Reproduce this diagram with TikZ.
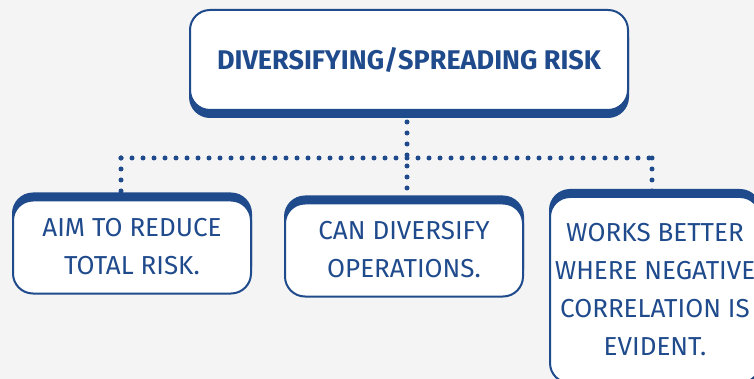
\documentclass[tikz,border=0pt]{standalone}
\usepackage{fontspec}
\setmainfont{Fira Sans}
\usetikzlibrary{positioning, backgrounds, shadows}
\definecolor{navy}{RGB}{31,74,140}
\definecolor{paper}{RGB}{244,244,244}

\begin{document}
\begin{tikzpicture}[x=1pt, y=-1pt,
    card/.style={draw=navy, line width=2pt, fill=white, rounded corners=20pt,
                 text=navy, align=center, font=\fontsize{26}{38}\selectfont},
    headcard/.style={card, minimum width=438pt, minimum height=100pt,
                     font=\fontsize{27}{32}\selectfont\bfseries,
                     general shadow={fill=navy, draw=navy, shadow yshift=-7pt}},
    leafcard/.style={card, minimum width=238pt, minimum height=93pt,
                     general shadow={fill=navy, draw=navy, shadow yshift=7pt}},
    dotline/.style={navy, line width=5pt, line cap=round, dash pattern=on 0pt off 11pt}]
  \useasboundingbox (0,0) rectangle (754,379);

  \node[headcard] (risk) at (409,60) {DIVERSIFYING/SPREADING RISK};
  \node[leafcard] (reduce) at (132,247) {AIM TO REDUCE\\TOTAL RISK.};
  \node[leafcard] (operations) at (404,250) {CAN DIVERSIFY\\OPERATIONS.};
  \node[leafcard, minimum width=210pt, minimum height=186pt]
    (correlation) at (655,290) {WORKS BETTER\\WHERE NEGATIVE\\CORRELATION IS\\EVIDENT.};

  \coordinate (busL) at (121,158);
  \coordinate (busR) at (652,158);

  \begin{pgfonlayer}{background}
    \fill[paper] (0,0) rectangle (754,379);
    % dotted tree
    \draw[dotline] (busL) -- (busR);
    \draw[dotline] (risk.south -| 407,0) -- (operations.north -| 407,0);
    \draw[dotline] (busL) -- (busL |- reduce.north);
    \draw[dotline] (busR) -- (busR |- correlation.north);
  \end{pgfonlayer}
\end{tikzpicture}
\end{document}
